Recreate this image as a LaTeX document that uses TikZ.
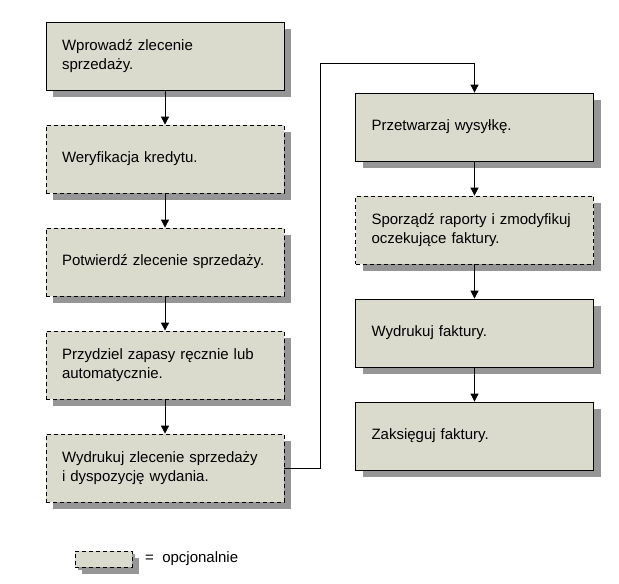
\documentclass[tikz,border=0pt]{standalone}
\usepackage{fontspec}
\setmainfont{Liberation Sans}
\usetikzlibrary{arrows.meta,positioning,shadows}
\definecolor{boxfill}{RGB}{218,218,205}
\definecolor{shadowgray}{RGB}{150,150,150}

\begin{document}
\begin{tikzpicture}[x=1pt,y=1pt,node distance=34.2pt,
    font=\fontsize{15}{19.5}\selectfont,
    step node/.style={rectangle,draw,line width=0.8pt,fill=boxfill,
        text width=206pt,inner xsep=16pt,inner ysep=0pt,minimum height=68pt,align=left,
        drop shadow={shadow xshift=7pt,shadow yshift=-7pt,fill=shadowgray,opacity=1}},
    opt node/.style={step node,dash pattern=on 4pt off 3pt},
    flow/.style={line width=0.8pt,-{Triangle[length=8pt,width=8pt]}}]
        \useasboundingbox (0,0) rectangle (619,-584);
        		%nodes
        			  \node[step node] (1) at (165,-56) {Wprowadź zlecenie\\sprzedaży.};
        			  \node[opt node] (2) [below=of 1] {Weryfikacja kredytu.};
        			  \node[opt node] (3) [below=of 2] {Potwierdź zlecenie sprzedaży.};
        			  \node[opt node] (4) [below=of 3] {Przydziel zapasy ręcznie lub\\automatycznie.};
        			  \node[opt node] (5) [below=of 4] {Wydrukuj zlecenie sprzedaży\\i dyspozycję wydania.};
        			  \node[step node] (6) at (474.5,-127) {Przetwarzaj wysyłkę.};
        			  \node[opt node] (7) [below=of 6] {Sporządź raporty i zmodyfikuj\\oczekujące faktury.};
        			  \node[step node] (8) [below=of 7] {Wydrukuj faktury.};
        			  \node[step node] (9) [below=of 8] {Zaksięguj faktury.};
        			  \coordinate (k) at (320,-63);
        		%legend
        			  \node[opt node,text width=57pt,inner xsep=0pt,minimum height=16pt,
        			    drop shadow={shadow xshift=3pt,shadow yshift=-3pt,fill=shadowgray,opacity=1}] (10) at (103.5,-559) {};
        			  \node[anchor=west,inner sep=0pt] (11) at (145,-559) {=\ \ opcjonalnie};
        		%Edges
        			  \draw[flow] (1) -- (2);
        			  \draw[flow] (2) -- (3);
        			  \draw[flow] (3) -- (4);
        			  \draw[flow] (4) -- (5);
        			  \draw[flow] (5.east) -| (k) -| (6.north);
        			  \draw[flow] (6) -- (7);
        			  \draw[flow] (7) -- (8);
        			  \draw[flow] (8) -- (9);
        \end{tikzpicture}
\end{document}
